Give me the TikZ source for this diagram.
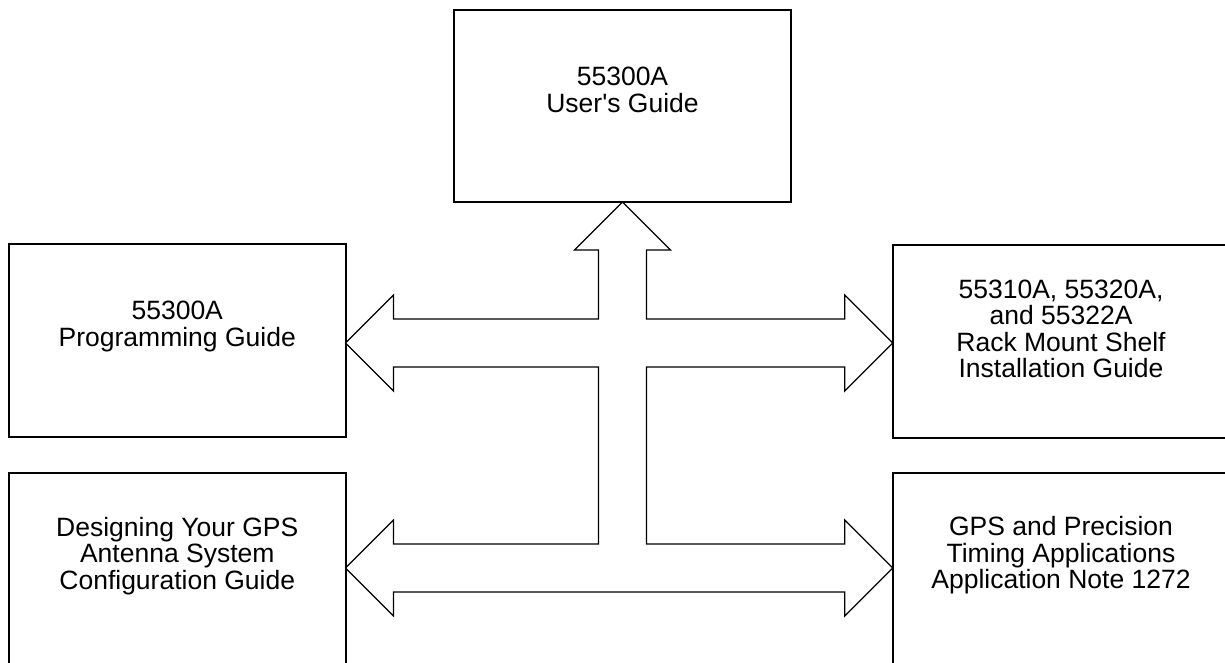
\documentclass[tikz,border=0pt]{standalone}
\usepackage{fontspec}
\setmainfont{Liberation Sans}
\usetikzlibrary{calc}
\begin{document}
\begin{tikzpicture}[x=1pt,y=-1pt,
  docbox/.style={draw, line width=2pt, inner sep=0pt, outer sep=0pt,
    minimum width=336.5pt, minimum height=193pt},
  lbl/.style={align=center, inner sep=0pt, anchor=base,
    font=\fontsize{26.5}{26.5}\selectfont},
  bigarrow/.style={draw, line width=1.3pt, line join=miter, fill=white}]
\useasboundingbox (0,0) rectangle (1225,662);
\clip (0,0) rectangle (1225,662);
% boxes
\node[docbox, minimum width=337pt, minimum height=192pt] (top) at (622.5,106) {};
\node[docbox] (pg) at (177.25,340.5) {};
\node[docbox] (rack) at (1061,341) {};
\node[docbox] (ant) at (177.25,569.5) {};
\node[docbox] (gps) at (1061,569.5) {};
% labels (anchor base = baseline of the last line)
\node[lbl] (toplbl) at ($(top.north)+(0,102)$) {55300A\\User\textquotesingle s Guide};
\node[lbl] (pglbl) at ($(pg.north)+(0,102)$) {55300A\\Programming Guide};
\node[lbl] (racklbl) at ($(rack.north)+(0,133)$) {55310A, 55320A,\\and 55322A\\Rack Mount Shelf\\Installation Guide};
\node[lbl] (antlbl) at ($(ant.north)+(0,116)$) {Designing Your GPS\\Antenna System\\Configuration Guide};
\node[lbl] (gpslbl) at ($(gps.north)+(0,115.5)$) {GPS and Precision\\Timing Applications\\Application Note 1272};
% hub coordinates
\coordinate (u) at (top.south |- 0,343);
\coordinate (l) at (top.south |- 0,568);
% the combined arrow
\draw[bigarrow] (top.south)
  -- ++(48,48) -- ++(-24,0)
  |- ($(rack.west |- u)+(-48,-24)$)
  -- ++(0,-24) -- (rack.west |- u) -- ++(-48,48) -- ++(0,-24)
  -- ($(u)+(24,24)$)
  |- ($(gps.west |- l)+(-48,-24)$)
  -- ++(0,-24) -- (gps.west |- l) -- ++(-48,48) -- ++(0,-24)
  -- ($(ant.east |- l)+(48,24)$)
  -- ++(0,24) -- (ant.east |- l) -- ++(48,-48) -- ++(0,24)
  -- ($(l)+(-24,-24)$)
  |- ($(pg.east |- u)+(48,24)$)
  -- ++(0,24) -- (pg.east |- u) -- ++(48,-48) -- ++(0,24)
  -- ($(u)+(-24,-24)$)
  -- ($(top.south)+(-24,48)$)
  -- ++(-24,0) -- cycle;
\end{tikzpicture}
\end{document}
